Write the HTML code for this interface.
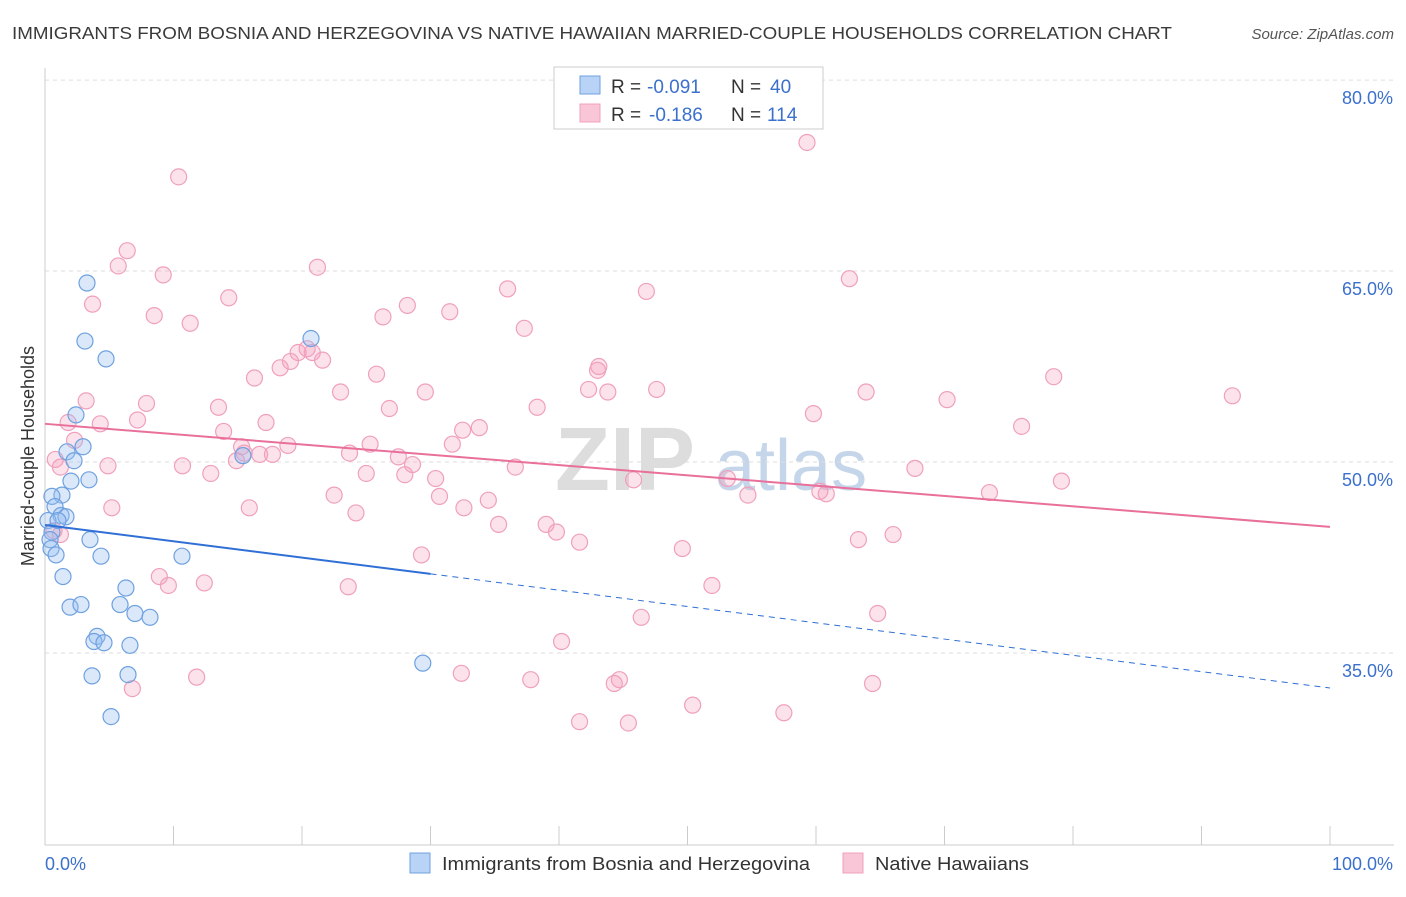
<!DOCTYPE html>
<html><head><meta charset="utf-8"><style>
body{margin:0;background:#fff;font-family:"Liberation Sans",sans-serif;}
svg text{font-family:"Liberation Sans",sans-serif;}
</style></head><body>
<svg id="chart" width="1406" height="892" xmlns="http://www.w3.org/2000/svg">
<text x="12" y="39" font-size="17.5" fill="#3a3a3a" textLength="1160" lengthAdjust="spacingAndGlyphs">IMMIGRANTS FROM BOSNIA AND HERZEGOVINA VS NATIVE HAWAIIAN MARRIED-COUPLE HOUSEHOLDS CORRELATION CHART</text>
<text x="1394" y="39" font-size="15" fill="#555" font-style="italic" text-anchor="end">Source: ZipAtlas.com</text>
<g>
<text x="555" y="490" font-size="90" fill="#ddd" font-family="Liberation Serif" font-weight="bold">ZIP</text>
<text x="715" y="490" font-size="72" fill="#c5d6ea">atlas</text>
</g>
<g id="grid"></g>
<g id="axes"></g>
<g id="pts"></g>
<g id="trends"></g>
<g>
<rect x="554" y="67" width="269" height="62" fill="#fff" stroke="#ccc"/>
<rect x="580" y="76" width="20" height="18" fill="#b8d3f5" stroke="#6fa1e0"/>
<rect x="580" y="104" width="20" height="18" fill="#f9c6d7" stroke="#f0a0bc"/>
<text x="611" y="93" font-size="19" fill="#333">R =</text>
<text x="647" y="93" font-size="19" fill="#3b70cc">-0.091</text>
<text x="731" y="93" font-size="19" fill="#333">N =</text>
<text x="770" y="93" font-size="19" fill="#3b70cc">40</text>
<text x="611" y="121" font-size="19" fill="#333">R =</text>
<text x="649" y="121" font-size="19" fill="#3b70cc">-0.186</text>
<text x="731" y="121" font-size="19" fill="#333">N =</text>
<text x="767" y="121" font-size="19" fill="#3b70cc">114</text>
</g>
<g>
<rect x="410" y="853" width="20" height="20" fill="#b8d3f5" stroke="#6fa1e0"/>
<text x="442" y="870" font-size="18" fill="#333" textLength="368" lengthAdjust="spacingAndGlyphs">Immigrants from Bosnia and Herzegovina</text>
<rect x="843" y="853" width="20" height="20" fill="#f9c6d7" stroke="#f0a0bc"/>
<text x="875" y="870" font-size="18" fill="#333" textLength="154" lengthAdjust="spacingAndGlyphs">Native Hawaiians</text>
</g>
<text transform="translate(34,456) rotate(-90)" font-size="18" fill="#333" text-anchor="middle">Married-couple Households</text>
</svg>
<script>
const yTicks=[35,50,65,80];
const yTickLabels=["35.0%","50.0%","65.0%","80.0%"];
const xTickLabels=["0.0%","100.0%"];
const blueX=[3.27,3.11,4.75,2.41,1.71,2.96,2.26,2.02,3.42,1.32,0.54,0.78,1.25,1.63,0.23,0.54,0.39,0.47,0.86,3.5,4.36,1.4,6.3,1.95,2.8,5.84,7.0,8.17,4.05,3.81,4.59,6.61,3.66,6.46,5.14,10.66,15.4,20.7,29.4,1.01];
const blueY=[64.06,59.5,58.1,53.7,50.8,51.2,50.1,48.5,48.6,47.4,47.3,46.5,45.8,45.7,45.4,44.5,43.9,43.2,42.7,43.9,42.6,41.0,40.1,38.6,38.8,38.8,38.1,37.8,36.3,35.9,35.8,35.6,33.2,33.3,30.0,42.6,50.5,59.7,34.2,45.4];
const pinkX=[59.3,10.4,6.4,5.7,9.2,21.2,62.6,36.0,46.8,3.7,14.3,28.2,31.5,8.5,11.3,26.3,37.3,19.7,20.8,21.6,18.3,19.1,20.4,25.8,16.3,43.1,43.0,47.6,42.3,43.8,29.6,23.0,63.9,70.2,78.5,92.4,3.2,7.9,13.5,26.8,38.3,59.8,1.8,4.3,7.2,17.2,76.0,33.8,32.5,13.9,2.3,18.9,25.3,23.7,31.7,0.8,15.3,15.5,17.7,16.7,27.5,14.9,4.9,10.7,12.9,28.6,1.2,36.6,67.7,28.0,30.4,25.0,45.8,53.1,79.1,73.5,22.5,30.7,34.5,54.7,60.3,60.8,5.2,15.9,32.6,24.2,35.3,39.0,39.8,41.6,49.6,63.3,66.0,0.7,1.2,29.3,8.9,9.6,12.4,51.9,23.6,46.4,64.8,40.2,32.4,11.8,37.8,44.7,44.3,64.4,6.8,50.4,57.5,41.6,45.4];
const pinkY=[75.1,72.4,66.6,65.4,64.7,65.3,64.4,63.6,63.4,62.4,62.9,62.3,61.8,61.5,60.9,61.4,60.5,58.6,58.6,58.0,57.4,57.9,58.9,56.9,56.6,57.5,57.2,55.7,55.7,55.5,55.5,55.5,55.5,54.9,56.7,55.2,54.8,54.6,54.3,54.2,54.3,53.8,53.1,53.0,53.3,53.1,52.8,52.7,52.5,52.4,51.7,51.3,51.4,50.7,51.4,50.2,51.2,50.7,50.6,50.6,50.4,50.1,49.7,49.7,49.1,49.8,49.6,49.6,49.5,49.0,48.7,49.1,48.6,48.7,48.5,47.6,47.4,47.3,47.0,47.4,47.7,47.5,46.4,46.4,46.4,46.0,45.1,45.1,44.5,43.7,43.2,43.9,44.3,44.6,44.3,42.7,41.0,40.3,40.5,40.3,40.2,37.8,38.1,35.9,33.4,33.1,32.9,32.9,32.6,32.6,32.2,30.9,30.3,29.6,29.5];
const blueTrend=[45.05,32.25]; // values at x=0 and x=100
const blueSolidEnd=30;
const pinkTrend=[53.0,44.9];
const NS="http://www.w3.org/2000/svg";
const X=v=>45+v*12.85, Y=v=>462-(v-50)*12.73;
function mk(t,a,p){const e=document.createElementNS(NS,t);for(const k in a)e.setAttribute(k,a[k]);p.appendChild(e);return e;}
const grid=document.getElementById('grid'),axes=document.getElementById('axes'),pts=document.getElementById('pts'),tr=document.getElementById('trends');
yTicks.forEach((v,i)=>{
 const l=mk('line',{x1:45,x2:1394,y1:Y(v),y2:Y(v),stroke:'#ddd','stroke-dasharray':'4,4'},grid);
 
 
 const t=mk('text',{x:1393,y:Y(v)+24,'font-size':18,fill:'#3b70cc','text-anchor':'end'},axes);
 t.textContent=yTickLabels[i];
 
 
});
mk('line',{x1:45,x2:45,y1:68,y2:845,stroke:'#ccc'},axes);
mk('line',{x1:45,x2:1394,y1:845,y2:845,stroke:'#ccc'},axes);
for(let i=0;i<=10;i++){mk('line',{x1:X(i*10),x2:X(i*10),y1:826,y2:845,stroke:'#ccc'},axes);}
[[0,'start',45],[1,'end',1393]].forEach(([i,a,x])=>{const t=mk('text',{x:x,y:870,'font-size':18,fill:'#3b70cc','text-anchor':a},axes);t.textContent=xTickLabels[i];
 
 });
pinkX.forEach((v,i)=>{const c=mk('circle',{cx:X(v),cy:Y(pinkY[i]),r:8,fill:'rgba(244,160,190,0.3)',stroke:'#f0a0bc','stroke-width':1.2},pts);
 
 });
blueX.forEach((v,i)=>{const c=mk('circle',{cx:X(v),cy:Y(blueY[i]),r:8,fill:'rgba(150,190,240,0.35)',stroke:'#6fa1e0','stroke-width':1.2},pts);
 
 });
const bAt=x=>blueTrend[0]+(blueTrend[1]-blueTrend[0])*x/100;
let l1=mk('line',{x1:X(0),y1:Y(bAt(0)),x2:X(blueSolidEnd),y2:Y(bAt(blueSolidEnd)),stroke:'#2f6fd6','stroke-width':2},tr);


let l2=mk('line',{x1:X(blueSolidEnd),y1:Y(bAt(blueSolidEnd)),x2:X(100),y2:Y(bAt(100)),stroke:'#2f6fd6','stroke-width':1,'stroke-dasharray':'6,5'},tr);


let l3=mk('line',{x1:X(0),y1:Y(pinkTrend[0]),x2:X(100),y2:Y(pinkTrend[1]),stroke:'#e8709a','stroke-width':2},tr);


</script>
</body></html>
